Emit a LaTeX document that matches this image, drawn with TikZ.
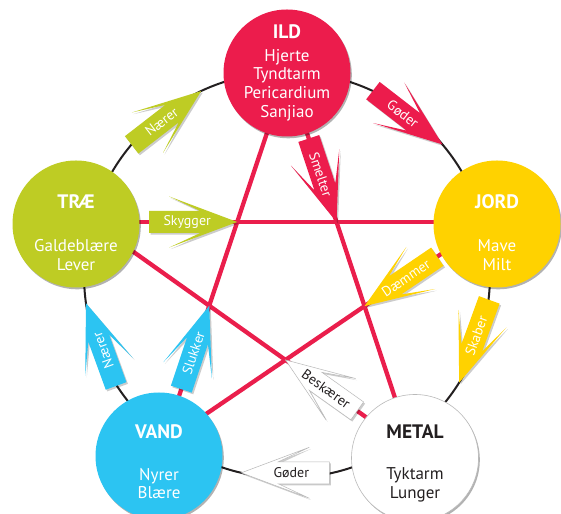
\documentclass[tikz,border=0pt]{standalone}
\usepackage{fontspec}
\setmainfont{PT Sans}
\usetikzlibrary{calc,shadows}
\definecolor{ildc}{RGB}{236,28,76}
\definecolor{redl}{RGB}{234,30,76}
\definecolor{jordc}{RGB}{255,210,0}
\definecolor{traec}{RGB}{190,204,36}
\definecolor{vandc}{RGB}{44,196,242}
\definecolor{ringc}{RGB}{35,31,32}
\definecolor{grayl}{RGB}{185,185,185}
\definecolor{darktext}{RGB}{35,31,32}

\newcommand\blockarr[7]{% #1 tip, #2 direction, #3 style, #4 text colour, #5 text, #6 text turn, #7 name
  \fill[black, opacity=.2, shift={#1}, xshift=1.5pt, yshift=-1.7pt, rotate=#2]
    (0,0) -- (-68,25.5) -- (-37,11) -- (-88,11) -- (-88,-11) -- (-37,-11) -- (-68,-25.5) -- cycle;
  \path[#3, shift={#1}, rotate=#2]
    (0,0) -- (-68,25.5) -- (-37,11) -- (-88,11) -- (-88,-11) -- (-37,-11) -- (-68,-25.5) -- cycle;
  \begin{scope}[shift={#1}, rotate=#2]
    \node[lbl, text=#4, transform shape, rotate=#6] (#7) at (-50,0) {#5};
  \end{scope}}

\begin{document}
\begin{tikzpicture}[x=1pt,y=1pt,
  ringline/.style={circle, draw=ringc, line width=2pt, minimum size=406pt, inner sep=0pt, outer sep=0pt},
  redline/.style={draw=redl, line width=4.3pt},
  elem/.style={circle, minimum size=127pt, inner sep=0pt, outer sep=0pt,
    drop shadow={shadow xshift=1.3pt, shadow yshift=-1.8pt, opacity=.3, fill=black}},
  title/.style={font=\fontsize{19.5}{22}\selectfont\bfseries, text=white, inner sep=0pt},
  organs/.style={font=\fontsize{17}{18.6}\selectfont, text=white, align=center, inner sep=0pt},
  lbl/.style={font=\fontsize{14}{15}\selectfont, inner sep=0pt},
  whitearrow/.style={fill=white, draw=grayl, line width=.5pt}
]
\useasboundingbox (0,0) rectangle (561,513);
\fill[white] (0,0) rectangle (561,513);

% element positions
\coordinate (ILD) at (287,440);
\coordinate (JORD) at (497,289);
\coordinate (METAL) at (415,55);
\coordinate (VAND) at (159,57);
\coordinate (TRAE) at (76,289);

% line ends
\coordinate (TRAEj) at ($(TRAE)+(0,2)$);
\coordinate (JORDt) at ($(JORD)+(0,2)$);
\coordinate (TRAEm) at ($(TRAE)+(0,13)$);
\coordinate (METALt) at ($(METAL)+(0,6)$);
\coordinate (JORDv) at ($(JORD)+(0,8)$);
\coordinate (VANDj) at ($(VAND)+(0,10)$);

% outer cycle
\node[ringline] (ring) at (287,238) {};

% star lines
\draw[redline] (TRAEj) -- (JORDt);
\draw[redline] (TRAEm) -- (METALt);
\draw[redline] (JORDv) -- (VANDj);
\draw[redline] (ILD) -- (METAL);
\draw[redline] (ILD) -- (VAND);

% element circles
\node[elem, fill=ildc] (ILDn) at (ILD) {};
\node[elem, fill=jordc] (JORDn) at (JORD) {};
\node[elem, fill=white, draw=grayl, line width=.6pt] (METALn) at (METAL) {};
\node[elem, fill=vandc] (VANDn) at (VAND) {};
\node[elem, fill=traec] (TRAEn) at (TRAE) {};

% texts
\node[title] (ILDt) at ($(ILDn.center)+(0,41)$) {ILD};
\node[organs] (ILDo) at ($(ILDn.center)+(0,-12)$) {Hjerte\\Tyndtarm\\Pericardium\\Sanjiao};
\node[title] (JORDt2) at ($(JORDn.center)+(0,22)$) {JORD};
\node[organs] (JORDo) at ($(JORDn.center)+(0,-31)$) {Mave\\Milt};
\node[title, text=darktext] (METALt2) at ($(METALn.center)+(0,26)$) {METAL};
\node[organs, text=darktext] (METALo) at ($(METALn.center)+(0,-27)$) {Tyktarm\\Lunger};
\node[title] (VANDt) at ($(VANDn.center)+(0,24)$) {VAND};
\node[organs] (VANDo) at ($(VANDn.center)+(0,-27.5)$) {Nyrer\\Blære};
\node[title] (TRAEt) at ($(TRAEn.center)+(0,22)$) {TRÆ};
\node[organs] (TRAEo) at ($(TRAEn.center)+(0,-31)$) {Galdeblære\\Lever};

% arrows along the cycle
\blockarr{(ring.115.5)}{37.75}{fill=traec}{white}{Nærer}{0}{a1}
\blockarr{(ring.40)}{-37.75}{fill=ildc}{white}{Gøder}{0}{a2}
\blockarr{(ring.328)}{-110}{fill=jordc}{white}{Skaber}{180}{a3}
\blockarr{(ring.257.5)}{180}{whitearrow}{darktext}{Gøder}{180}{a4}
\blockarr{(ring.188)}{110}{fill=vandc}{white}{Nærer}{0}{a5}

% arrows on the star
\blockarr{(intersection of TRAEj--JORDt and ILD--VAND)}{0}{fill=traec}{white}{Skygger}{0}{b1}
\blockarr{(intersection of ILD--METAL and TRAEj--JORDt)}{-71.6}{fill=ildc}{white}{Smelter}{0}{b2}
\blockarr{(intersection of JORDv--VANDj and ILD--METAL)}{214.2}{fill=jordc}{white}{Dæmmer}{180}{b3}
\blockarr{(intersection of METALt--TRAEm and JORDv--VANDj)}{144.6}{whitearrow}{darktext}{Beskærer}{180}{b4}
\blockarr{(intersection of VAND--ILD and TRAEm--METALt)}{71.5}{fill=vandc}{white}{Slukker}{0}{b5}
\end{tikzpicture}
\end{document}
